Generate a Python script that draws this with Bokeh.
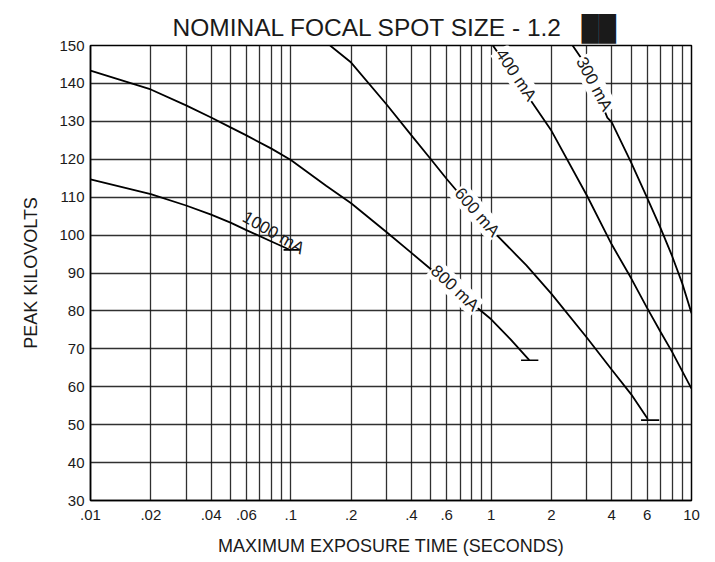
import math
from bokeh.plotting import figure
from bokeh.models import Range1d, FixedTicker, ColumnDataSource
from bokeh.core.properties import value
from bokeh.embed import file_html
from bokeh.resources import INLINE

title_text = "NOMINAL FOCAL SPOT SIZE - 1.2"
title_mark = "\u2588\u2588"   # solid black square after the title
x_label = "MAXIMUM EXPOSURE TIME (SECONDS)"
y_label = "PEAK KILOVOLTS"

x_ticks = [0.01, 0.02, 0.04, 0.06, 0.1, 0.2, 0.4, 0.6, 1, 2, 4, 6, 10]
x_tick_labels = [".01", ".02", ".04", ".06", ".1", ".2", ".4", ".6", "1", "2", "4", "6", "10"]
x_grid_values = [0.01, 0.02, 0.03, 0.04, 0.05, 0.06, 0.07, 0.08, 0.09,
                 0.1, 0.2, 0.3, 0.4, 0.5, 0.6, 0.7, 0.8, 0.9,
                 1, 2, 3, 4, 5, 6, 7, 8, 9, 10]
y_ticks = [30, 40, 50, 60, 70, 80, 90, 100, 110, 120, 130, 140, 150]

# curves: maximum exposure time (s) vs peak kV
ma1000_t = [0.01, 0.02, 0.03, 0.04, 0.05, 0.06, 0.08, 0.1]
ma1000_kv = [114.7, 110.8, 107.8, 105.4, 103.3, 101.3, 98.3, 96.0]

ma800_t = [0.01, 0.02, 0.03, 0.04, 0.05, 0.06, 0.08, 0.1, 0.15, 0.2, 0.3, 0.4, 0.6, 1.0, 1.25, 1.55]
ma800_kv = [143.4, 138.4, 134.2, 131.0, 128.4, 126.3, 122.8, 119.8, 113.0, 108.4, 100.8, 95.3, 87.5, 77.8, 72.5, 67.0]

ma600_t = [0.157, 0.2, 0.3, 0.4, 0.5, 0.6, 0.8, 1.0, 1.5, 2, 3, 4, 5, 6.05]
ma600_kv = [150, 145.5, 134.5, 126.3, 120.0, 114.8, 107.0, 101.5, 92.0, 84.5, 73.0, 64.5, 58.0, 51.5]

ma400_t = [1.02, 1.3, 1.65, 2, 3, 4, 5, 6, 7, 8, 10]
ma400_kv = [150, 142.0, 134.0, 127.5, 110.5, 97.5, 88.6, 80.8, 74.5, 69.2, 59.5]

ma300_t = [2.55, 3, 3.8, 4, 5, 6, 7, 8, 9, 10]
ma300_kv = [150, 144.5, 131, 129.7, 119.1, 109.9, 101.9, 94.5, 87.2, 79.4]

# end marks (short horizontal bars at curve ends)
cap_kv = [96.1, 67.0, 51.2]
cap_t0 = [0.092, 1.41, 5.6]
cap_t1 = [0.111, 1.72, 6.9]

# curve labels
label_text = ["800 mA", "600 mA", "400 mA", "300 mA"]
label_t = [0.66, 0.85, 1.33, 3.27]
label_kv = [86.0, 106.0, 142.2, 139.8]
label_deg = [43, 49, 56, 62]

label1000_text = ["1000 mA"]
label1000_t = [0.082]
label1000_kv = [100.6]
label1000_deg = [30]

FONT = "Liberation Sans"

p = figure(width=708, height=560, x_axis_type="log",
           x_range=Range1d(0.01, 10), y_range=Range1d(30, 150),
           output_backend="svg", toolbar_location=None,
           min_border_left=90, min_border_right=17, min_border_top=45, min_border_bottom=60)

p.title.text = title_text + "\u00a0\u00a0\u00a0" + title_mark
p.title.align = "left"
p.title.offset = 82
p.title.text_font = FONT
p.title.text_font_size = "24.5px"
p.title.text_font_style = "normal"
p.title.text_color = "#1a1a1a"
p.title.standoff = 10

p.outline_line_color = "black"
p.outline_line_width = 1.5
p.background_fill_color = "white"
p.border_fill_color = "white"

p.xaxis.ticker = FixedTicker(ticks=x_ticks)
p.xaxis.major_label_overrides = {t: s for t, s in zip(x_ticks, x_tick_labels)}
p.yaxis.ticker = FixedTicker(ticks=y_ticks)
for ax in (p.xaxis, p.yaxis):
    ax.major_tick_in = 0
    ax.major_tick_out = 0
    ax.minor_tick_in = 0
    ax.minor_tick_out = 0
    ax.axis_line_color = "black"
    ax.axis_line_width = 1.5
    ax.major_label_text_font = FONT
    ax.major_label_text_font_size = "15px"
    ax.major_label_text_color = "#1a1a1a"
    ax.axis_label_text_font = FONT
    ax.axis_label_text_font_size = "18px"
    ax.axis_label_text_font_style = "normal"
    ax.axis_label_text_color = "#1a1a1a"
p.xaxis.axis_label = x_label
p.yaxis.axis_label = y_label
p.xaxis.major_label_standoff = 9
p.xaxis.axis_label_standoff = 13
p.yaxis.major_label_standoff = 6
p.yaxis.axis_label_standoff = 15

p.xgrid.ticker = FixedTicker(ticks=x_grid_values)
p.ygrid.ticker = FixedTicker(ticks=y_ticks)
for g in (p.xgrid, p.ygrid):
    g.grid_line_color = "#1a1a1a"
    g.grid_line_width = 1.3
    g.grid_line_alpha = 0.9

for t, kv in [(ma1000_t, ma1000_kv), (ma800_t, ma800_kv), (ma600_t, ma600_kv),
              (ma400_t, ma400_kv), (ma300_t, ma300_kv)]:
    p.line(t, kv, line_color="black", line_width=1.8)

p.segment(x0=cap_t0, y0=cap_kv, x1=cap_t1, y1=cap_kv, line_color="black", line_width=1.6)

src = ColumnDataSource(dict(x=label_t, y=label_kv, text=label_text,
                            angle=[-math.radians(d) for d in label_deg]))
p.text(x="x", y="y", text="text", angle="angle", source=src,
       text_font=value(FONT), text_font_size="17px", text_color="#1a1a1a",
       text_align="center", text_baseline="middle",
       background_fill_color="white", padding=1)

src2 = ColumnDataSource(dict(x=label1000_t, y=label1000_kv, text=label1000_text,
                             angle=[-math.radians(d) for d in label1000_deg]))
p.text(x="x", y="y", text="text", angle="angle", source=src2,
       text_font=value(FONT), text_font_size="17px", text_color="#1a1a1a",
       text_align="center", text_baseline="middle")

open("out.html", "w").write(file_html(p, INLINE))
